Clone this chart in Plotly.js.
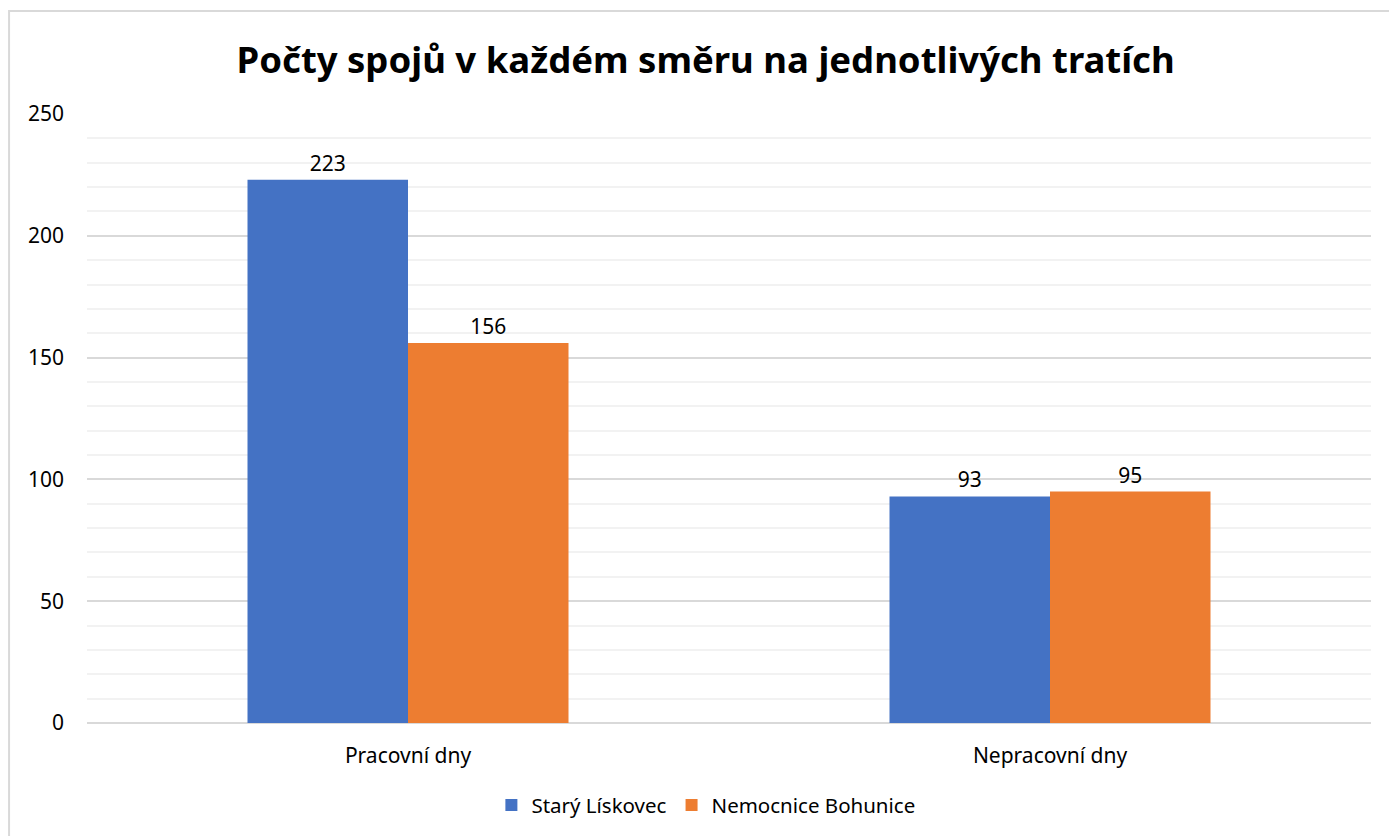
<!DOCTYPE html>
<html>
<head>
<meta charset="utf-8">
<script src="https://cdn.plot.ly/plotly-3.0.1.min.js"></script>
<style>
  html, body { margin: 0; padding: 0; background: #fff; }
  #graf { width: 1389px; height: 836px; }
</style>
</head>
<body>
<div id="graf"></div>
<script>
var kategorie = ['Pracovní dny', 'Nepracovní dny'];
var starLiskovec = [223, 93];
var nemocBohunice = [156, 95];
var nazvy = ['Starý Lískovec', 'Nemocnice Bohunice'];
var barvy = ['#4472C4', '#ED7D31'];

var pismo = 'Noto Sans, Open Sans, sans-serif';

var trace1 = {
  x: kategorie,
  y: starLiskovec,
  name: nazvy[0],
  type: 'bar',
  text: starLiskovec.map(String),
  textposition: 'outside',
  cliponaxis: false,
  textfont: {size: 21, color: '#000'},
  marker: {color: barvy[0]}
};
var trace2 = {
  x: kategorie,
  y: nemocBohunice,
  name: nazvy[1],
  type: 'bar',
  text: nemocBohunice.map(String),
  textposition: 'outside',
  cliponaxis: false,
  textfont: {size: 21, color: '#000'},
  marker: {color: barvy[1]}
};

var layout = {
  width: 1389,
  height: 836,
  paper_bgcolor: '#fff',
  plot_bgcolor: '#fff',
  font: {family: pismo, size: 21, color: '#000'},
  title: {
    text: '<b>Počty spojů v každém směru na jednotlivých tratích</b>',
    font: {family: pismo, size: 36.5, color: '#000'},
    x: 0.508, xanchor: 'center',
    y: 0.928, yanchor: 'middle'
  },
  barmode: 'group',
  bargap: 0.5,
  bargroupgap: 0,
  showlegend: true,
  legend: {
    orientation: 'h',
    x: 0.482, xanchor: 'center',
    y: -0.135, yanchor: 'middle',
    font: {size: 20.5},
    itemwidth: 30,
    traceorder: 'normal'
  },
  xaxis: {
    showgrid: false,
    showline: false,
    ticks: '',
    tickfont: {size: 21},
    ticklabelstandoff: 18
  },
  yaxis: {
    range: [0, 250],
    dtick: 50,
    tickfont: {size: 21},
    gridcolor: '#d9d9d9',
    gridwidth: 2,
    zeroline: true,
    zerolinecolor: '#d9d9d9',
    zerolinewidth: 2,
    ticks: '',
    ticklabelstandoff: 22,
    minor: {dtick: 10, showgrid: true, gridcolor: '#f2f2f2', gridwidth: 2}
  },
  shapes: [{
    type: 'rect', xref: 'paper', yref: 'paper',
    x0: -0.0607, x1: 1.02, y0: -0.2, y1: 1.169,
    line: {color: '#d9d9d9', width: 2},
    layer: 'below'
  }],
  margin: {t: 114, b: 113, l: 87, r: 18, autoexpand: false}
};

Plotly.newPlot('graf', [trace1, trace2], layout, {displayModeBar: false});
</script>
</body>
</html>
